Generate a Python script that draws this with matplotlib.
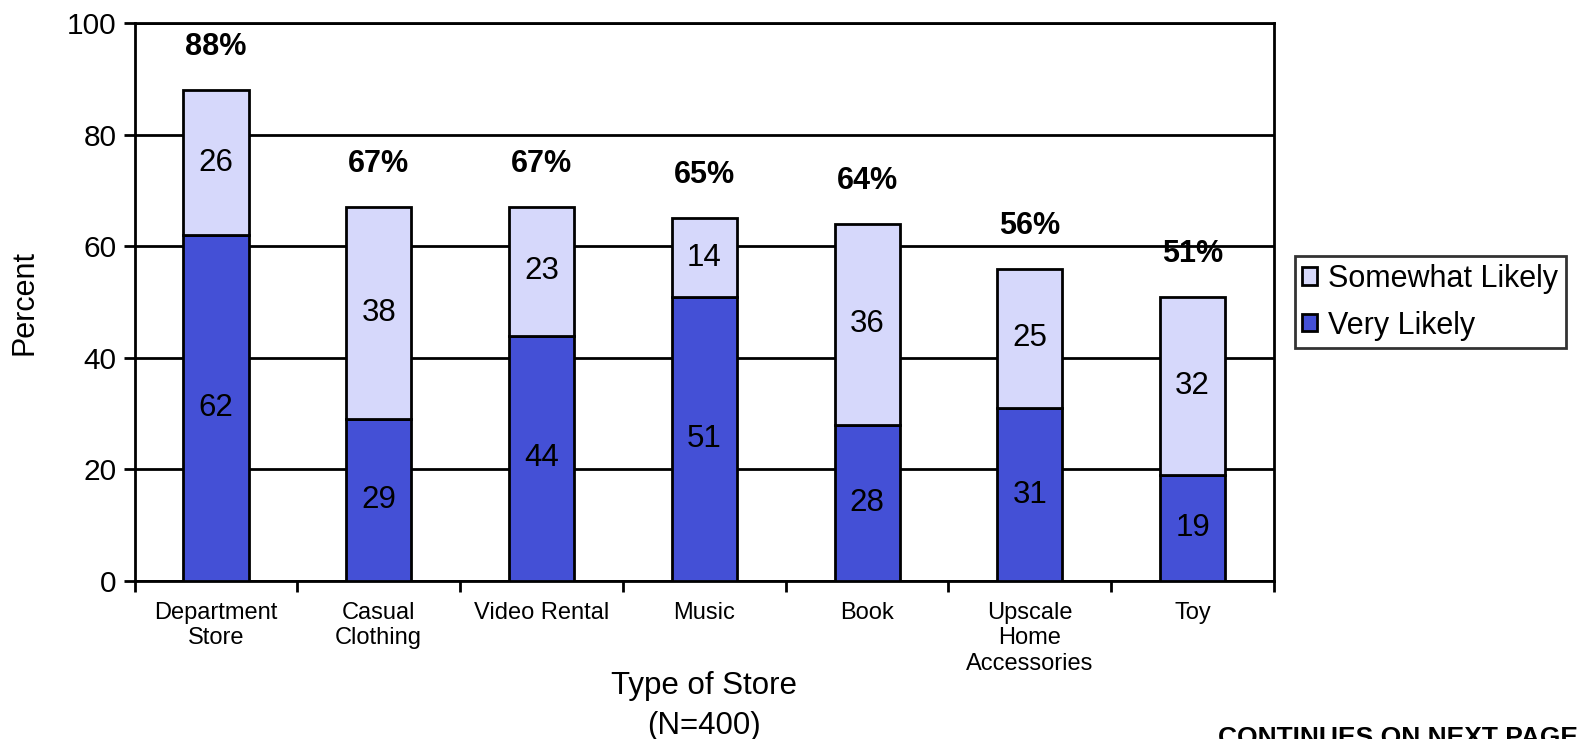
import numpy as np
import matplotlib
matplotlib.use("Agg")
import matplotlib.pyplot as plt

plt.rcParams['font.family'] = ['Liberation Sans', 'DejaVu Sans']

stores = ['Department\nStore', 'Casual\nClothing', 'Video Rental', 'Music', 'Book',
          'Upscale\nHome\nAccessories', 'Toy']
very_likely = [62, 29, 44, 51, 28, 31, 19]
somewhat_likely = [26, 38, 23, 14, 36, 25, 32]
totals = [88, 67, 67, 65, 64, 56, 51]

dark = '#4450d6'
light = '#d6d8fb'

fig = plt.figure(figsize=(15.85, 7.39), dpi=100)
ax = fig.add_axes([0.0849, 0.2138, 0.7189, 0.7547])

x = np.arange(len(stores))
width = 0.4
b1 = ax.bar(x, very_likely, width, color=dark, edgecolor='black', linewidth=2,
            label='Very Likely', zorder=3)
b2 = ax.bar(x, somewhat_likely, width, bottom=very_likely, color=light,
            edgecolor='black', linewidth=2, label='Somewhat Likely', zorder=3)

# numbers in the middle of each segment, totals on top
for i in range(len(stores)):
    ax.text(x[i], very_likely[i] / 2, str(very_likely[i]), ha='center', va='center',
            fontsize=22.5, zorder=4)
    ax.text(x[i], very_likely[i] + somewhat_likely[i] / 2, str(somewhat_likely[i]),
            ha='center', va='center', fontsize=22.5, zorder=4)
    ax.annotate(f'{totals[i]}%', (x[i], totals[i]), xytext=(0, 31),
                textcoords='offset points', ha='center', va='center',
                fontsize=22, fontweight='bold')

ax.set_xlim(-0.5, len(stores) - 0.5)
ax.set_ylim(0, 100)
ax.set_yticks([0, 20, 40, 60, 80, 100])
ax.yaxis.grid(True, color='black', linewidth=2, zorder=0)
ax.set_axisbelow(True)

ax.set_xticks(x)
ax.set_xticklabels(stores, fontsize=17, linespacing=1.2)
ax.tick_params(axis='x', which='major', length=0, pad=15)
ax.set_xticks(np.arange(-0.5, len(stores)), minor=True)
ax.tick_params(axis='x', which='minor', length=8, width=2, direction='out')
ax.tick_params(axis='y', labelsize=21.5, length=8, width=2, direction='out', pad=5)

for s in ax.spines.values():
    s.set_linewidth(2)

ax.set_ylabel('Percent', fontsize=22, labelpad=20)
ax.set_xlabel('Type of Store\n(N=400)', fontsize=22.5, linespacing=1.45)
ax.xaxis.set_label_coords(0.5, -0.161)

handles = [b2, b1]
leg = ax.legend(handles, ['Somewhat Likely', 'Very Likely'], loc='center left',
                bbox_to_anchor=(1.018, 0.5), borderaxespad=0, fontsize=22,
                frameon=True, fancybox=False, edgecolor='black',
                handlelength=0.5, handleheight=0.5, handletextpad=0.35,
                borderpad=0.25, labelspacing=0.55)
leg.get_frame().set_linewidth(2)

fig.text(1218 / 1585, 1 - 726 / 739, 'CONTINUES ON NEXT PAGE', fontsize=19,
         fontweight='bold', ha='left', va='top')

fig.savefig('out.png', dpi=100)
